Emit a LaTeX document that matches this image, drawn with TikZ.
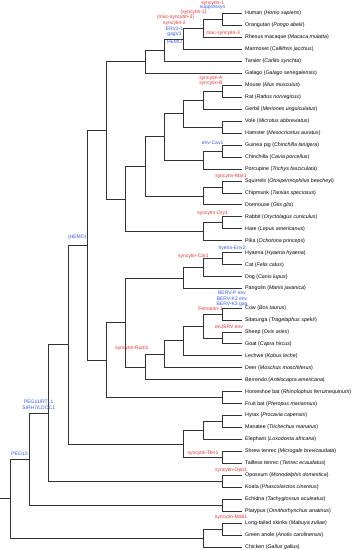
\documentclass[tikz,border=0pt]{standalone}
\usepackage{fontspec}
\setmainfont{Liberation Sans}
\definecolor{labred}{RGB}{232,50,50}
\definecolor{labblue}{RGB}{55,90,225}
\definecolor{treeline}{RGB}{50,50,50}
\begin{document}
\begin{tikzpicture}[x=1pt,y=-1pt,
  branch/.style={draw=treeline,line width=0.75pt},
  toleaf/.style={branch,shorten >=3pt},
  leaf/.style={anchor=west,inner sep=0pt,text height=3.9pt,text depth=1.1pt,font=\fontsize{5.3}{6}\selectfont},
  lab/.style={inner sep=0pt,text height=3.7pt,text depth=1pt,font=\fontsize{5}{6}\selectfont},
  rl/.style={lab,text=labred},
  bl/.style={lab,text=labblue}]
\useasboundingbox (0,0) rectangle (357,550);
% leaves
\node[leaf] (t1) at (245,13.5) {Human (\textit{Homo sapiens})};
\node[leaf] (t2) at (245,25.46) {Orangutan (\textit{Pongo abelii})};
\node[leaf] (t3) at (245,37.42) {Rhesus macaque (\textit{Macaca mulatta})};
\node[leaf] (t4) at (245,49.38) {Marmoset (\textit{Callithrix jacchus})};
\node[leaf] (t5) at (245,61.34) {Tarsier (\textit{Carlito syrichta})};
\node[leaf] (t6) at (245,73.30) {Galago (\textit{Galago senegalensis})};
\node[leaf] (t7) at (245,85.26) {Mouse (\textit{Mus musculus})};
\node[leaf] (t8) at (245,97.22) {Rat (\textit{Rattus norvegicus})};
\node[leaf] (t9) at (245,109.18) {Gerbil (\textit{Meriones unguiculatus})};
\node[leaf] (t10) at (245,121.14) {Vole (\textit{Microtus abbreviatus})};
\node[leaf] (t11) at (245,133.10) {Hamster (\textit{Mesocricetus auratus})};
\node[leaf] (t12) at (245,145.06) {Guinea pig (\textit{Chinchilla lanigera})};
\node[leaf] (t13) at (245,157.02) {Chinchilla (\textit{Cavia porcellus})};
\node[leaf] (t14) at (245,168.98) {Porcupine (\textit{Trichys fasciculata})};
\node[leaf] (t15) at (245,180.94) {Squirrels (\textit{Otospermophilus beecheyi})};
\node[leaf] (t16) at (245,192.90) {Chipmunk (\textit{Tamias speciosus})};
\node[leaf] (t17) at (245,204.86) {Dormouse (\textit{Glis glis})};
\node[leaf] (t18) at (245,216.82) {Rabbit (\textit{Oryctolagus cuniculus})};
\node[leaf] (t19) at (245,228.78) {Hare (\textit{Lepus americanus})};
\node[leaf] (t20) at (245,240.74) {Pika (\textit{Ochotona princeps})};
\node[leaf] (t21) at (245,252.70) {Hyaena (\textit{Hyaena hyaena})};
\node[leaf] (t22) at (245,264.66) {Cat (\textit{Felis catus})};
\node[leaf] (t23) at (245,276.62) {Dog (\textit{Canis lupus})};
\node[leaf] (t24) at (245,288.58) {Pangolin (\textit{Manis javanica})};
\node[leaf] (t25) at (245,308.0) {Cow (\textit{Bos taurus})};
\node[leaf] (t26) at (245,319.95) {Sitatunga (\textit{Tragelaphus spekii})};
\node[leaf] (t27) at (245,331.9) {Sheep (\textit{Ovis aries})};
\node[leaf] (t28) at (245,343.85) {Goat (\textit{Capra hircus})};
\node[leaf] (t29) at (245,355.8) {Lechwe (\textit{Kobus leche})};
\node[leaf] (t30) at (245,367.75) {Deer (\textit{Moschus moschiferus})};
\node[leaf] (t31) at (245,379.7) {Berrendo (\textit{Antilocapra americana})};
\node[leaf] (t32) at (245,391.65) {Horseshoe bat (\textit{Rhinolophus ferrumequinum})};
\node[leaf] (t33) at (245,403.6) {Fruit bat (\textit{Pteropus mariannus})};
\node[leaf] (t34) at (245,415.55) {Hyrax (\textit{Procavia capensis})};
\node[leaf] (t35) at (245,427.5) {Manatee (\textit{Trichechus manatus})};
\node[leaf] (t36) at (245,439.45) {Elephant (\textit{Loxodonta africana})};
\node[leaf] (t37) at (245,451.4) {Shrew tenrec (\textit{Microgale brevicaudata})};
\node[leaf] (t38) at (245,463.35) {Tailless tenrec (\textit{Tenrec ecaudatus})};
\node[leaf] (t39) at (245,475.3) {Opossum (\textit{Monodelphis domestica})};
\node[leaf] (t40) at (245,487.25) {Koala (\textit{Phascolarctos cinereus})};
\node[leaf] (t41) at (245,499.2) {Echidna (\textit{Tachyglossus aculeatus})};
\node[leaf] (t42) at (245,511.15) {Platypus (\textit{Ornithorhynchus anatinus})};
\node[leaf] (t43) at (245,523.1) {Long-tailed skinks (\textit{Mabuya zuliae})};
\node[leaf] (t44) at (245,535.05) {Green anole (\textit{Anolis carolinensis})};
\node[leaf] (t45) at (245,547.0) {Chicken (\textit{Gallus gallus})};
% internal nodes
\coordinate (n_ho) at (222.3,19.48);
\coordinate (n_hor) at (203,28.45);
\coordinate (n_cat) at (183.7,38.92);
\coordinate (n_anth) at (164.4,50.13);
\coordinate (n_prim) at (145.1,61.72);
\coordinate (n_mr) at (222.3,91.24);
\coordinate (n_mrg) at (203,100.21);
\coordinate (n_vh) at (222.3,127.12);
\coordinate (n_muroid) at (183.7,113.67);
\coordinate (n_gc) at (222.3,151.04);
\coordinate (n_gcp) at (203,160.01);
\coordinate (n_mc) at (164.4,136.84);
\coordinate (n_sc) at (222.3,186.92);
\coordinate (n_scd) at (203,195.89);
\coordinate (n_rod) at (145.1,166.37);
\coordinate (n_rh) at (222.3,222.8);
\coordinate (n_lag) at (203,231.77);
\coordinate (n_glires) at (125.8,199.07);
\coordinate (n_euarch) at (106.5,130.39);
\coordinate (n_hc) at (222.3,258.68);
\coordinate (n_hcd) at (203,267.65);
\coordinate (n_fer) at (183.7,278.12);
\coordinate (n_cs) at (222.3,313.98);
\coordinate (n_sg) at (222.3,337.88);
\coordinate (n_bov) at (203,325.93);
\coordinate (n_bovl) at (183.7,340.86);
\coordinate (n_bovd) at (164.4,354.31);
\coordinate (n_rum) at (145.1,367.0);
\coordinate (n_ferum) at (125.8,322.56);
\coordinate (n_bats) at (222.3,397.63);
\coordinate (n_laur) at (106.5,360.09);
\coordinate (n_boreo) at (87.2,245.24);
\coordinate (n_hm) at (222.3,421.53);
\coordinate (n_pae) at (203,430.49);
\coordinate (n_ten) at (222.3,457.38);
\coordinate (n_afro) at (183.7,443.93);
\coordinate (n_plac) at (67.9,344.59);
\coordinate (n_mars) at (222.3,481.28);
\coordinate (n_ther) at (48.6,412.93);
\coordinate (n_mono) at (222.3,505.18);
\coordinate (n_mamm) at (29.3,459.05);
\coordinate (n_la) at (222.3,529.08);
\coordinate (n_rept) at (203,538.04);
\coordinate (n_root) at (10,498.5);
\coordinate (stub) at (0,498.5);
% branches
\draw[toleaf] (n_ho) |- (t1.west); \draw[toleaf] (n_ho) |- (t2.west);
\draw[branch] (n_hor) |- (n_ho); \draw[toleaf] (n_hor) |- (t3.west);
\draw[branch] (n_cat) |- (n_hor); \draw[toleaf] (n_cat) |- (t4.west);
\draw[branch] (n_anth) |- (n_cat); \draw[toleaf] (n_anth) |- (t5.west);
\draw[branch] (n_prim) |- (n_anth); \draw[toleaf] (n_prim) |- (t6.west);
\draw[toleaf] (n_mr) |- (t7.west); \draw[toleaf] (n_mr) |- (t8.west);
\draw[branch] (n_mrg) |- (n_mr); \draw[toleaf] (n_mrg) |- (t9.west);
\draw[toleaf] (n_vh) |- (t10.west); \draw[toleaf] (n_vh) |- (t11.west);
\draw[branch] (n_muroid) |- (n_mrg); \draw[branch] (n_muroid) |- (n_vh);
\draw[toleaf] (n_gc) |- (t12.west); \draw[toleaf] (n_gc) |- (t13.west);
\draw[branch] (n_gcp) |- (n_gc); \draw[toleaf] (n_gcp) |- (t14.west);
\draw[branch] (n_mc) |- (n_muroid); \draw[branch] (n_mc) |- (n_gcp);
\draw[toleaf] (n_sc) |- (t15.west); \draw[toleaf] (n_sc) |- (t16.west);
\draw[branch] (n_scd) |- (n_sc); \draw[toleaf] (n_scd) |- (t17.west);
\draw[branch] (n_rod) |- (n_mc); \draw[branch] (n_rod) |- (n_scd);
\draw[toleaf] (n_rh) |- (t18.west); \draw[toleaf] (n_rh) |- (t19.west);
\draw[branch] (n_lag) |- (n_rh); \draw[toleaf] (n_lag) |- (t20.west);
\draw[branch] (n_glires) |- (n_rod); \draw[branch] (n_glires) |- (n_lag);
\draw[branch] (n_euarch) |- (n_prim); \draw[branch] (n_euarch) |- (n_glires);
\draw[toleaf] (n_hc) |- (t21.west); \draw[toleaf] (n_hc) |- (t22.west);
\draw[branch] (n_hcd) |- (n_hc); \draw[toleaf] (n_hcd) |- (t23.west);
\draw[branch] (n_fer) |- (n_hcd); \draw[toleaf] (n_fer) |- (t24.west);
\draw[toleaf] (n_cs) |- (t25.west); \draw[toleaf] (n_cs) |- (t26.west);
\draw[toleaf] (n_sg) |- (t27.west); \draw[toleaf] (n_sg) |- (t28.west);
\draw[branch] (n_bov) |- (n_cs); \draw[branch] (n_bov) |- (n_sg);
\draw[branch] (n_bovl) |- (n_bov); \draw[toleaf] (n_bovl) |- (t29.west);
\draw[branch] (n_bovd) |- (n_bovl); \draw[toleaf] (n_bovd) |- (t30.west);
\draw[branch] (n_rum) |- (n_bovd); \draw[toleaf] (n_rum) |- (t31.west);
\draw[branch] (n_ferum) |- (n_fer); \draw[branch] (n_ferum) |- (n_rum);
\draw[toleaf] (n_bats) |- (t32.west); \draw[toleaf] (n_bats) |- (t33.west);
\draw[branch] (n_laur) |- (n_ferum); \draw[branch] (n_laur) |- (n_bats);
\draw[branch] (n_boreo) |- (n_euarch); \draw[branch] (n_boreo) |- (n_laur);
\draw[toleaf] (n_hm) |- (t34.west); \draw[toleaf] (n_hm) |- (t35.west);
\draw[branch] (n_pae) |- (n_hm); \draw[toleaf] (n_pae) |- (t36.west);
\draw[toleaf] (n_ten) |- (t37.west); \draw[toleaf] (n_ten) |- (t38.west);
\draw[branch] (n_afro) |- (n_pae); \draw[branch] (n_afro) |- (n_ten);
\draw[branch] (n_plac) |- (n_boreo); \draw[branch] (n_plac) |- (n_afro);
\draw[toleaf] (n_mars) |- (t39.west); \draw[toleaf] (n_mars) |- (t40.west);
\draw[branch] (n_ther) |- (n_plac); \draw[branch] (n_ther) |- (n_mars);
\draw[toleaf] (n_mono) |- (t41.west); \draw[toleaf] (n_mono) |- (t42.west);
\draw[branch] (n_mamm) |- (n_ther); \draw[branch] (n_mamm) |- (n_mono);
\draw[toleaf] (n_la) |- (t43.west); \draw[toleaf] (n_la) |- (t44.west);
\draw[branch] (n_rept) |- (n_la); \draw[toleaf] (n_rept) |- (t45.west);
\draw[branch] (n_root) |- (n_mamm); \draw[branch] (n_root) |- (n_rept);
\draw[branch] (stub) -- (n_root);
% labels
\node[rl] (g1) at (212.6,2.7) {syncytin-1};
\node[bl] (g2) at (212.6,7.6) {suppressyn};
\node[rl] (g3) at (193.6,12.5) {(syncytin-1)};
\node[rl] (g4) at (175.5,16.8) {(mac-syncytin-3)};
\node[rl] (g5) at (174.5,23.3) {syncytin-2};
\node[bl] (g6) at (174.5,29.3) {ERV3-1};
\node[bl] (g7) at (174.5,34.5) {gagV1};
\node[bl] (g8) at (174.5,42.6) {HEMO};
\node[rl] (g9) at (223,33.3) {mac-syncytin-3};
\node[rl] (g10) at (211,77.7) {syncytin-A};
\node[rl] (g11) at (211,82.9) {syncytin-B};
\node[bl] (g12) at (212.6,143.3) {env-Cav1};
\node[rl] (g13) at (231,176) {syncytin-Mar1};
\node[rl] (g14) at (212.6,213.3) {syncytin-Ory1};
\node[bl] (g15) at (232,247.7) {hyena-Env2};
\node[rl] (g16) at (193.4,256) {syncytin-Car1};
\node[bl] (g17) at (232,293) {BERV-P env};
\node[bl] (g18) at (232,298.7) {BERV-K2 env};
\node[bl] (g19) at (232,304.3) {BERV-K3 gag};
\node[rl] (g20) at (210.5,309.6) {Fematrin-1};
\node[rl] (g21) at (229,326.7) {enJSRV env};
\node[rl] (g22) at (132,348.5) {syncytin-Rum1};
\node[rl] (g23) at (203,452.8) {syncytin-Ten1};
\node[rl] (g24) at (231,470.2) {syncytin-Opo1};
\node[rl] (g25) at (231,517.5) {syncytin-Mab1};
\node[bl] (g26) at (77.3,237) {(HEMO)};
\node[bl] (g27) at (38.7,401.7) {PEG11/RTL1};
\node[bl] (g28) at (38.7,408.6) {SIRH7/LDOC1};
\node[bl] (g29) at (19.5,454) {PEG10};
\end{tikzpicture}
\end{document}
